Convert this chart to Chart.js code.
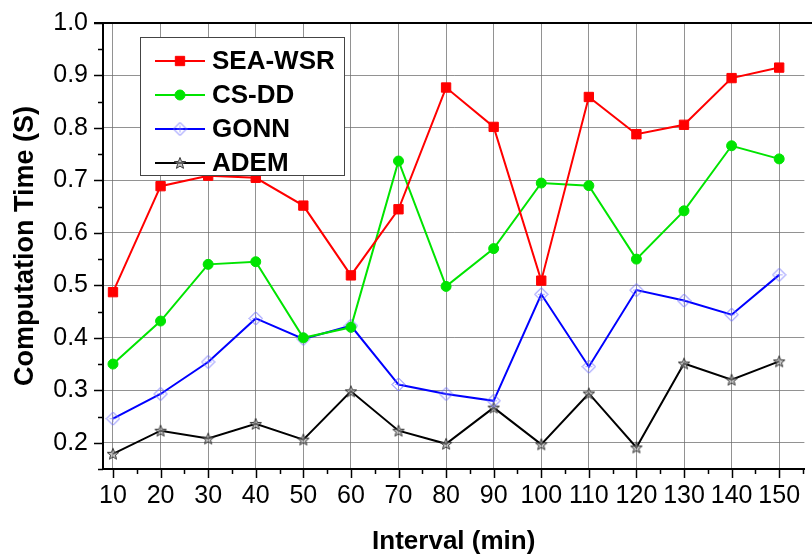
<!DOCTYPE html>
<html>
<head>
<meta charset="utf-8">
<title>Computation Time vs Interval</title>
<script src="https://cdn.jsdelivr.net/npm/chart.js@4.4.1/dist/chart.umd.min.js"></script>
<style>
  html, body { margin: 0; padding: 0; background: #fff; }
  #wrap { width: 812px; height: 558px; }
</style>
</head>
<body>
<div id="wrap"><canvas id="chart" width="812" height="558"></canvas></div>
<script>
// Interval (min) on the x axis
const intervals = [10, 20, 30, 40, 50, 60, 70, 80, 90, 100, 110, 120, 130, 140, 150];

// Computation time (S) per method
const seaWsr = [0.487, 0.689, 0.709, 0.705, 0.652, 0.519, 0.645, 0.877, 0.802, 0.509, 0.859, 0.788, 0.806, 0.895, 0.915];
const csDd   = [0.350, 0.432, 0.540, 0.545, 0.400, 0.420, 0.737, 0.498, 0.570, 0.695, 0.690, 0.550, 0.642, 0.766, 0.741];
const gonn   = [0.246, 0.293, 0.354, 0.437, 0.398, 0.423, 0.311, 0.293, 0.280, 0.483, 0.345, 0.491, 0.471, 0.444, 0.520];
const adem   = [0.179, 0.223, 0.208, 0.236, 0.206, 0.298, 0.223, 0.198, 0.267, 0.197, 0.294, 0.191, 0.351, 0.320, 0.355];

const seriesNames = ['SEA-WSR', 'CS-DD', 'GONN', 'ADEM'];

// Labelled ticks
const xTickLabels = intervals;
const yTickLabels = [0.2, 0.3, 0.4, 0.5, 0.6, 0.7, 0.8, 0.9, 1.0];

const FONT = "'Liberation Sans', Arial, Helvetica, sans-serif";

function toPoints(values) {
    return values.map((v, i) => ({ x: intervals[i], y: v }));
}

// Hollow diamond with a small cross inside
function diamondMarker() {
    const c = document.createElement('canvas');
    c.width = 15; c.height = 15;
    const g = c.getContext('2d');
    g.strokeStyle = '#6a6aff';
    g.lineWidth = 1;
    g.beginPath();
    g.moveTo(7.5, 1); g.lineTo(14, 7.5); g.lineTo(7.5, 14); g.lineTo(1, 7.5); g.closePath();
    g.stroke();
    g.beginPath();
    g.moveTo(7.5, 4); g.lineTo(7.5, 11);
    g.moveTo(4, 7.5); g.lineTo(11, 7.5);
    g.strokeStyle = 'rgba(106,106,255,0.6)';
    g.stroke();
    return c;
}

// Five-pointed outlined star
function starMarker() {
    const c = document.createElement('canvas');
    c.width = 14; c.height = 14;
    const g = c.getContext('2d');
    const cx = 7, cy = 7.5, ro = 6, ri = 2.6;
    g.beginPath();
    for (let k = 0; k < 10; k++) {
        const r = k % 2 === 0 ? ro : ri;
        const a = -Math.PI / 2 + k * Math.PI / 5;
        const px = cx + r * Math.cos(a), py = cy + r * Math.sin(a);
        if (k === 0) g.moveTo(px, py); else g.lineTo(px, py);
    }
    g.closePath();
    g.fillStyle = 'rgba(160,160,160,0.6)';
    g.fill();
    g.strokeStyle = '#333';
    g.lineWidth = 1;
    g.stroke();
    return c;
}

const isMajorY = v => yTickLabels.some(t => Math.abs(t - v) < 1e-6);
const isMajorX = v => xTickLabels.includes(v);

// Tick marks (long for labelled values, short in between) and the top frame line
const axisMarks = {
    id: 'axisMarks',
    afterDraw(chart) {
        const ctx = chart.ctx;
        const area = chart.chartArea;
        const xs = chart.scales.x, ys = chart.scales.y;
        ctx.save();
        ctx.strokeStyle = '#000';
        ctx.lineWidth = 1.5;
        ctx.beginPath();
        xs.ticks.forEach(t => {
            const px = Math.round(xs.getPixelForValue(t.value)) + 0.5;
            const len = isMajorX(t.value) ? 9 : 5;
            ctx.moveTo(px, area.bottom);
            ctx.lineTo(px, area.bottom + len);
        });
        ys.ticks.forEach(t => {
            const py = Math.round(ys.getPixelForValue(t.value)) + 0.5;
            const len = isMajorY(t.value) ? 9 : 5;
            ctx.moveTo(area.left, py);
            ctx.lineTo(area.left - len, py);
        });
        ctx.stroke();
        ctx.lineWidth = 2;
        ctx.beginPath();
        ctx.moveTo(area.left - 9, area.top);
        ctx.lineTo(chart.width, area.top);
        ctx.stroke();
        ctx.restore();
    }
};

// Boxed legend inside the plot area
const boxLegend = {
    id: 'boxLegend',
    afterDatasetsDraw(chart) {
        const ctx = chart.ctx;
        const area = chart.chartArea;
        const bx = area.left + 37, by = area.top + 14, bw = 204, bh = 138;
        ctx.save();
        ctx.fillStyle = '#fff';
        ctx.fillRect(bx, by, bw, bh);
        ctx.strokeStyle = '#444';
        ctx.lineWidth = 1;
        ctx.strokeRect(bx + 0.5, by + 0.5, bw, bh);
        chart.data.datasets.forEach((ds, i) => {
            const cy = by + 24 + i * 34;
            ctx.strokeStyle = ds.borderColor;
            ctx.lineWidth = 2;
            ctx.beginPath();
            ctx.moveTo(bx + 15, cy);
            ctx.lineTo(bx + 65, cy);
            ctx.stroke();
            ctx.fillStyle = ds.pointBackgroundColor;
            ctx.strokeStyle = ds.pointBorderColor;
            ctx.lineWidth = ds.pointBorderWidth;
            Chart.helpers.drawPoint(ctx, {
                pointStyle: ds.pointStyle,
                radius: ds.pointRadius,
                rotation: 0,
                borderWidth: ds.pointBorderWidth
            }, bx + 40, cy);
            ctx.fillStyle = '#000';
            ctx.font = 'bold 26px ' + FONT;
            ctx.textAlign = 'left';
            ctx.textBaseline = 'middle';
            ctx.fillText(ds.label, bx + 72, cy + 1);
        });
        ctx.restore();
    }
};

const ctx = document.getElementById('chart').getContext('2d');
const chart = new Chart(ctx, {
    type: 'line',
    data: {
        datasets: [
            {
                label: seriesNames[0],
                data: toPoints(seaWsr),
                borderColor: '#ff0000',
                pointBackgroundColor: '#ff0000',
                pointBorderColor: '#ff0000',
                pointBorderWidth: 1,
                pointStyle: 'rect',
                pointRadius: 6.6,
                borderWidth: 2
            },
            {
                label: seriesNames[1],
                data: toPoints(csDd),
                borderColor: '#00e400',
                pointBackgroundColor: '#00e400',
                pointBorderColor: '#00e400',
                pointBorderWidth: 1,
                pointStyle: 'circle',
                pointRadius: 5,
                borderWidth: 2
            },
            {
                label: seriesNames[2],
                data: toPoints(gonn),
                borderColor: '#0000ff',
                pointBackgroundColor: 'rgba(0,0,0,0)',
                pointBorderColor: '#6a6aff',
                pointBorderWidth: 1,
                pointStyle: diamondMarker(),
                pointRadius: 6,
                borderWidth: 2
            },
            {
                label: seriesNames[3],
                data: toPoints(adem),
                borderColor: '#000000',
                pointBackgroundColor: 'rgba(0,0,0,0)',
                pointBorderColor: '#333',
                pointBorderWidth: 1,
                pointStyle: starMarker(),
                pointRadius: 6,
                borderWidth: 2
            }
        ]
    },
    options: {
        responsive: false,
        animation: false,
        devicePixelRatio: 1,
        layout: { padding: { top: 23, right: 4, left: 0, bottom: 0 } },
        elements: { line: { tension: 0 } },
        plugins: {
            legend: { display: false },
            tooltip: { enabled: false }
        },
        scales: {
            x: {
                type: 'linear',
                min: 7.9,
                max: 155.3,
                // fixed axis band; tick labels may overhang the plot edges
                afterFit: scale => {
                    scale.height = 89;
                    scale.paddingLeft = 0;
                    scale.paddingRight = 0;
                },
                border: { display: true, color: '#000', width: 2 },
                grid: {
                    drawTicks: false,
                    lineWidth: 1,
                    color: c => isMajorX(c.tick.value) ? 'rgba(110,110,110,0.75)' : 'rgba(0,0,0,0)'
                },
                ticks: {
                    stepSize: 5,
                    includeBounds: false,
                    autoSkip: false,
                    maxRotation: 0,
                    padding: 12.5,
                    color: '#000',
                    font: { family: FONT, size: 25 },
                    callback: v => isMajorX(v) ? String(v) : ''
                },
                title: {
                    display: true,
                    text: 'Interval (min)',
                    color: '#000',
                    font: { family: FONT, size: 26, weight: 'bold' },
                    padding: { top: 0, bottom: 1 }
                }
            },
            y: {
                min: 0.15,
                max: 1.0,
                afterFit: scale => {
                    scale.width = 103;
                    scale.paddingTop = 0;
                    scale.paddingBottom = 0;
                },
                border: { display: true, color: '#000', width: 2 },
                grid: {
                    drawTicks: false,
                    lineWidth: 1,
                    color: c => isMajorY(c.tick.value) ? 'rgba(110,110,110,0.75)' : 'rgba(0,0,0,0)'
                },
                ticks: {
                    stepSize: 0.05,
                    includeBounds: false,
                    autoSkip: false,
                    padding: 15,
                    color: '#000',
                    font: { family: FONT, size: 25 },
                    callback: v => isMajorY(v) ? v.toFixed(1) : ''
                },
                title: {
                    display: true,
                    text: 'Computation Time (S)',
                    color: '#000',
                    font: { family: FONT, size: 27, weight: 'bold' },
                    padding: { top: 9, bottom: 0 }
                }
            }
        }
    },
    plugins: [axisMarks, boxLegend]
});
</script>
</body>
</html>
